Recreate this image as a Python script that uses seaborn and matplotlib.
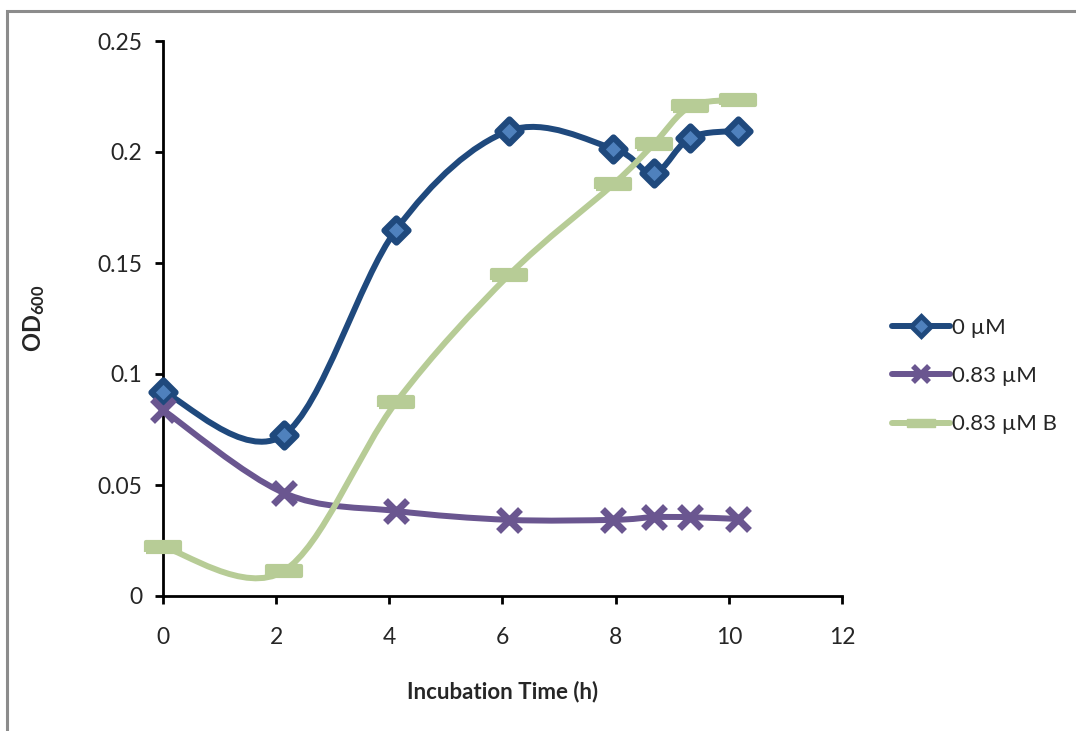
import numpy as np
import pandas as pd
import matplotlib
matplotlib.use("Agg")
import matplotlib.pyplot as plt
import seaborn as sns
from matplotlib.path import Path
from matplotlib.patches import PathPatch, Rectangle
from matplotlib.lines import Line2D

# values
hours = [0, 2.13, 4.12, 6.11, 7.96, 8.67, 9.32, 10.17]
od_0uM = [0.092, 0.0725, 0.165, 0.2095, 0.2015, 0.1905, 0.2065, 0.2095]
od_083uM = [0.0838, 0.0465, 0.0383, 0.0343, 0.0343, 0.0355, 0.0355, 0.0347]
od_083uM_B = [0.0221, 0.0112, 0.0873, 0.1445, 0.1855, 0.2035, 0.2205, 0.2235]

labels = ["0 \u00b5M", "0.83 \u00b5M", "0.83 \u00b5M B"]
series = [od_0uM, od_083uM, od_083uM_B]
line_colors = ["#1F497D", "#6A5690", "#B7CC96"]

sns.set_style("white")
plt.rcParams["font.family"] = ["Lato", "DejaVu Sans"]
plt.rcParams["mathtext.fontset"] = "custom"
plt.rcParams["mathtext.bf"] = "Lato:bold"
plt.rcParams["mathtext.rm"] = "Lato"

fig = plt.figure(figsize=(10.76, 7.31), dpi=100)
ax = fig.add_axes([163/1076, 1-596/731, (842-163)/1076, (596-41)/731])

# chart border like the Excel chart area
fig.patches.append(Rectangle((7/1076, -0.05), 1.1, 1-11/731+0.05, transform=fig.transFigure,
                             fill=False, edgecolor="#8C8C8C", linewidth=2.2))


def smooth_path(xs, ys):
    # Excel-style smoothing: cubic bezier with catmull-rom control points
    pts = np.column_stack([xs, ys])
    n = len(pts)
    verts = [pts[0]]
    codes = [Path.MOVETO]
    for i in range(n - 1):
        p0 = pts[i - 1] if i > 0 else pts[i]
        p1 = pts[i]
        p2 = pts[i + 1]
        p3 = pts[i + 2] if i + 2 < n else pts[i + 1]
        verts += [p1 + (p2 - p0) / 6, p2 - (p3 - p1) / 6, p2]
        codes += [Path.CURVE4] * 3
    return Path(verts, codes)


df = pd.DataFrame({"hours": hours * 3,
                   "od": od_0uM + od_083uM + od_083uM_B,
                   "series": sum([[l] * len(hours) for l in labels], [])})

for vals, col in zip(series, line_colors):
    ax.add_patch(PathPatch(smooth_path(hours, vals), fill=False, edgecolor=col,
                           linewidth=4.3, capstyle="round", zorder=2, clip_on=False))

dash = [(-1.5, -0.42), (1.5, -0.42), (1.5, 0.42), (-1.5, 0.42), (-1.5, -0.42)]

sns.scatterplot(data=df[df.series == labels[0]], x="hours", y="od", marker="D", s=150,
                color="#4F81BD", edgecolor="#1F497D", linewidth=4.5, ax=ax, zorder=3,
                legend=False, clip_on=False)
sns.scatterplot(data=df[df.series == labels[1]], x="hours", y="od", marker="x", s=250,
                color="#6A5690", linewidth=5, ax=ax, zorder=3, legend=False, clip_on=False)
sns.scatterplot(data=df[df.series == labels[2]], x="hours", y="od", marker=dash, s=620,
                color="#B7CC96", edgecolor="#B7CC96", linewidth=3, ax=ax, zorder=3,
                legend=False, clip_on=False)

ax.set_xlim(0, 12)
ax.set_ylim(0, 0.25)
ax.set_xticks(range(0, 13, 2))
ax.set_yticks([0, 0.05, 0.1, 0.15, 0.2, 0.25])
ax.set_yticklabels(["0", "0.05", "0.1", "0.15", "0.2", "0.25"])
for s in ["top", "right"]:
    ax.spines[s].set_visible(False)
for s in ["left", "bottom"]:
    ax.spines[s].set_color("black")
    ax.spines[s].set_linewidth(2)
    ax.spines[s].set_zorder(1)
ax.tick_params(axis="both", direction="out", length=6, width=2, color="black",
               labelsize=16.5, pad=9, bottom=True, left=True)
ax.tick_params(axis="x", pad=16)

ax.set_xlabel("Incubation Time (h)", fontsize=16, fontweight="bold", labelpad=24)
ax.set_ylabel(r"$\mathbf{OD_{600}}$", fontsize=17, labelpad=36)

handles = [
    Line2D([], [], color=line_colors[0], lw=4.3, marker="D", markersize=10,
           markerfacecolor="#4F81BD", markeredgecolor="#1F497D", markeredgewidth=3.5),
    Line2D([], [], color=line_colors[1], lw=4.3, marker="x", markersize=12, markeredgewidth=4),
    Line2D([], [], color=line_colors[2], lw=4.3, marker=dash, markersize=20,
           markerfacecolor=line_colors[2], markeredgecolor=line_colors[2]),
]
ax.legend(handles, labels, loc="center left", bbox_to_anchor=(872/1076, 1-376/731),
          bbox_transform=fig.transFigure, frameon=False, fontsize=16,
          handlelength=2.6, handletextpad=0.1, labelspacing=1.28)

fig.savefig("out.png", dpi=100)
